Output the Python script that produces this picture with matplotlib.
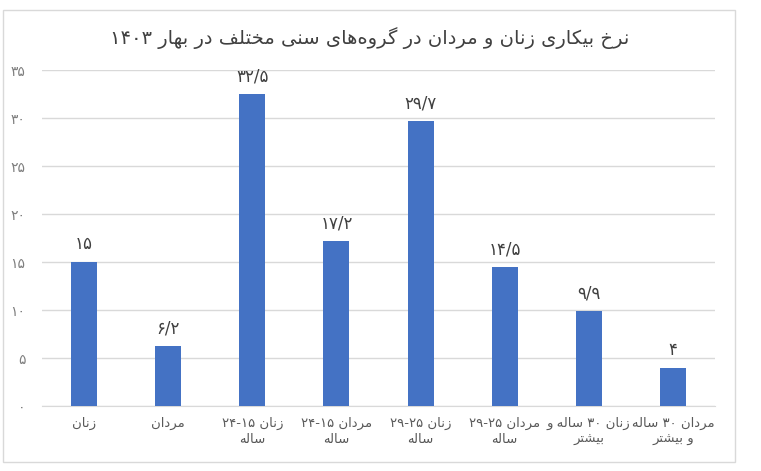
import matplotlib.pyplot as plt
from matplotlib.patches import Rectangle

# data
categories = ["زنان", "مردان", "زنان ۱۵-۲۴\nساله", "مردان ۱۵-۲۴\nساله",
              "زنان ۲۵-۲۹\nساله", "مردان ۲۵-۲۹\nساله",
              "زنان ۳۰ ساله و\nبیشتر", "مردان ۳۰ ساله\nو بیشتر"]
values = [15, 6.2, 32.5, 17.2, 29.7, 14.5, 9.9, 4]
yticks = [0, 5, 10, 15, 20, 25, 30, 35]
title = "نرخ بیکاری زنان و مردان در گروه\u200cهای سنی مختلف در بهار ۱۴۰۳"

# minimal persian shaping: (isolated, final, initial, medial); 2 forms = right-joining only
FORMS = {
    "ا": "\uFE8D\uFE8E", "د": "\uFEA9\uFEAA", "ر": "\uFEAD\uFEAE", "ز": "\uFEAF\uFEB0",
    "و": "\uFEED\uFEEE",
    "ب": "\uFE8F\uFE90\uFE91\uFE92", "ت": "\uFE95\uFE96\uFE97\uFE98",
    "خ": "\uFEA5\uFEA6\uFEA7\uFEA8", "س": "\uFEB1\uFEB2\uFEB3\uFEB4",
    "ش": "\uFEB5\uFEB6\uFEB7\uFEB8", "ف": "\uFED1\uFED2\uFED3\uFED4",
    "ل": "\uFEDD\uFEDE\uFEDF\uFEE0", "م": "\uFEE1\uFEE2\uFEE3\uFEE4",
    "ن": "\uFEE5\uFEE6\uFEE7\uFEE8", "ه": "\uFEE9\uFEEA\uFEEB\uFEEC",
    "ی": "\uFBFC\uFBFD\uFBFE\uFBFF", "ک": "\uFB8E\uFB8F\uFB90\uFB91",
    "گ": "\uFB92\uFB93\uFB94\uFB95",
}
DIGITS = "۰۱۲۳۴۵۶۷۸۹"


def shape_line(s):
    out = []
    for i, c in enumerate(s):
        if c not in FORMS:
            if c != "\u200c":
                out.append(c)
            continue
        prev = s[i - 1] if i > 0 else ""
        nxt = s[i + 1] if i + 1 < len(s) else ""
        join_prev = prev in FORMS and len(FORMS[prev]) == 4
        join_next = len(FORMS[c]) == 4 and nxt in FORMS
        f = FORMS[c]
        if join_prev and join_next:
            out.append(f[3])
        elif join_prev:
            out.append(f[1])
        elif join_next:
            out.append(f[2])
        else:
            out.append(f[0])
    vis = "".join(out)[::-1]
    # digit runs keep left-to-right order
    res, run = "", ""
    for c in vis:
        if c in DIGITS:
            run += c
        else:
            res += run[::-1] + c
            run = ""
    return res + run[::-1]


def fa(s):
    return "\n".join(shape_line(line) for line in s.split("\n"))


def fa_num(v):
    s = f"{v:g}".replace(".", "/")
    return "".join(DIGITS[int(c)] if c.isdigit() else c for c in s)


plt.rcParams['font.family'] = ['DejaVu Sans']

fig = plt.figure(figsize=(7.61, 4.71), dpi=100)
fig.patches.append(Rectangle((3 / 761, 1 - 462 / 471), 732 / 761, 452 / 471,
                             transform=fig.transFigure, fill=False,
                             edgecolor='#d9d9d9', linewidth=1))
ax = fig.add_axes([42 / 761, 1 - 406 / 471, 673 / 761, 336 / 471])

x = range(len(values))
bars = ax.bar(x, values, width=0.31, color='#4472C4', zorder=3)
for b, v in zip(bars, values):
    ax.text(b.get_x() + b.get_width() / 2, v + 0.9, fa_num(v), ha='center',
            va='bottom', fontsize=12, color='#404040')

ax.set_xlim(-0.5, len(values) - 0.5)
ax.set_ylim(0, 35)
ax.set_yticks(yticks)
ax.set_yticklabels([fa_num(t) for t in yticks], fontsize=10, color='#7f7f7f')
ax.set_xticks(list(x))
ax.set_xticklabels([fa(c) for c in categories], fontsize=9.5, color='#595959',
                   linespacing=1.3)
ax.tick_params(length=0, axis='both')
ax.tick_params(axis='y', pad=12)
ax.tick_params(axis='x', pad=8)
ax.grid(axis='y', color='#d9d9d9', linewidth=1, zorder=0)
for sp in ax.spines.values():
    sp.set_visible(False)
ax.spines['bottom'].set_visible(True)
ax.spines['bottom'].set_color('#d9d9d9')

fig.text(370 / 761, 1 - 38 / 471, fa(title), ha='center', va='center',
         fontsize=14, color='#404040')

fig.savefig('out.png', dpi=100)
